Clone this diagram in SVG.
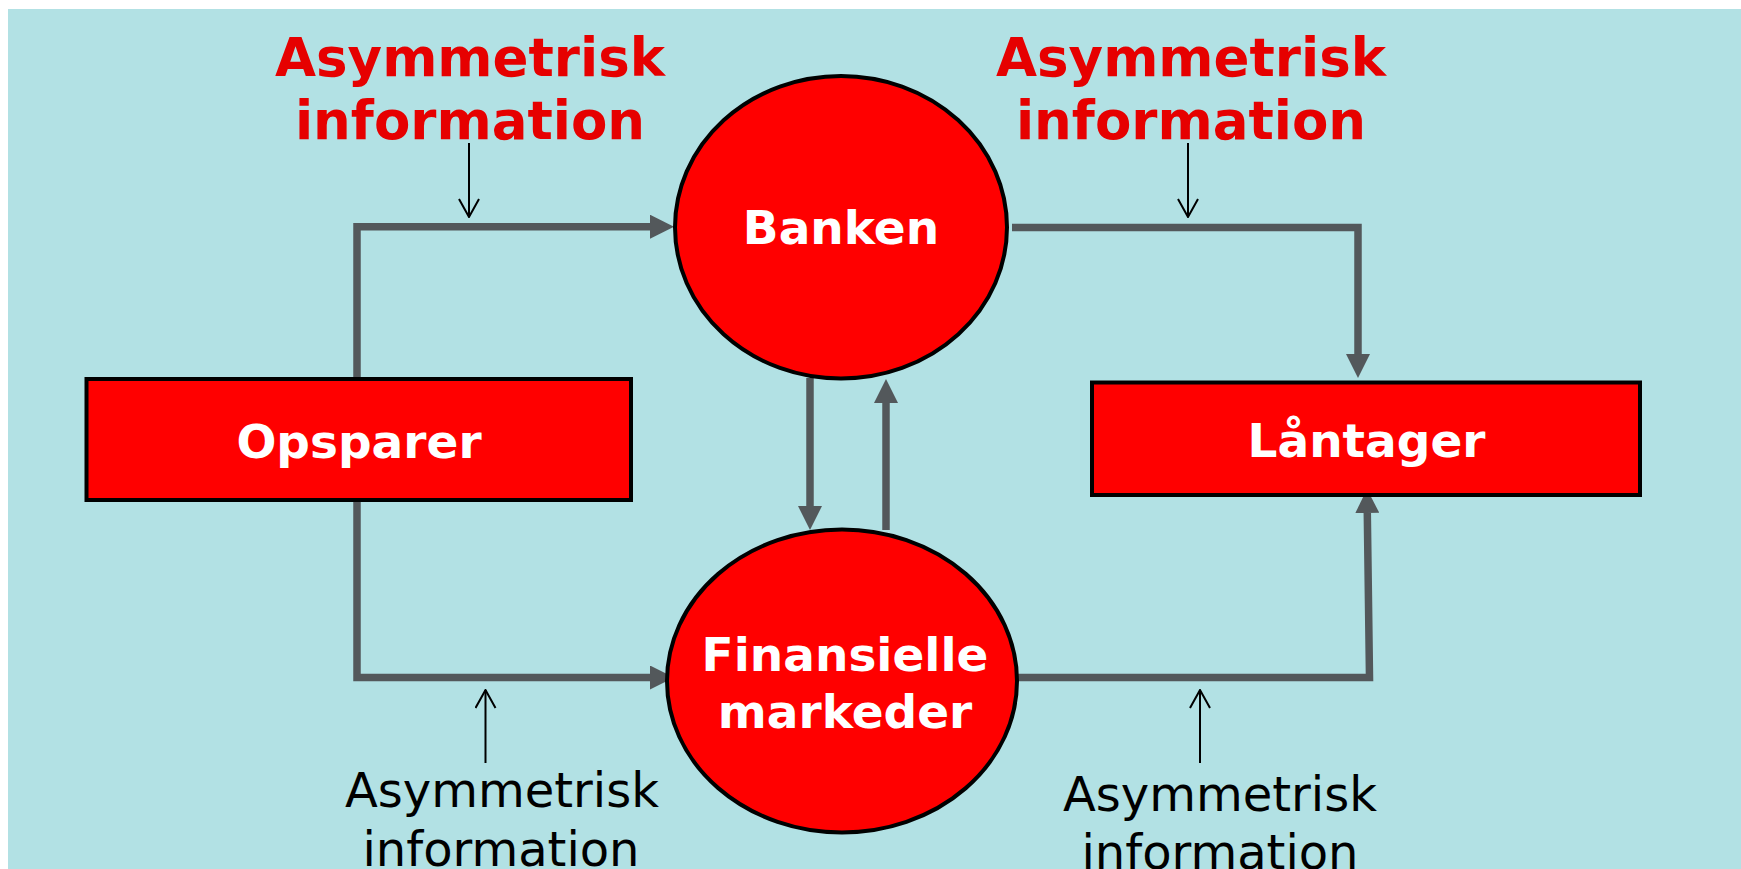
<svg xmlns="http://www.w3.org/2000/svg" width="1741" height="869" viewBox="0 0 1741 869">
  <style>
    .node { fill: #FF0000; stroke: #000000; stroke-width: 4; }
    .lbl { font-family: "DejaVu Sans", "Verdana", sans-serif; font-weight: bold; font-size: 47px; fill: #FFFFFF; text-anchor: middle; }
    .red { font-family: "DejaVu Sans", "Verdana", sans-serif; font-weight: bold; font-size: 53px; fill: #E60000; text-anchor: middle; }
    .blk { font-family: "DejaVu Sans", "Verdana", sans-serif; font-size: 48px; fill: #000000; text-anchor: middle; }
    .flow { fill: none; stroke: #53585B; stroke-width: 7.5; stroke-linejoin: miter; marker-end: url(#ah); }
    .info { fill: none; stroke: #000000; stroke-width: 2; marker-end: url(#open); }
  </style>
  <defs>
    <marker id="ah" viewBox="0 0 24 24" refX="0" refY="12" markerWidth="24" markerHeight="24" markerUnits="userSpaceOnUse" orient="auto">
      <path d="M0,0 L24,12 L0,24 Z" fill="#53585B"/>
    </marker>
    <marker id="open" viewBox="0 0 20 22" refX="19" refY="11" markerWidth="20" markerHeight="22" markerUnits="userSpaceOnUse" orient="auto">
      <path d="M1,1 L19,11 L1,21" fill="none" stroke="#000000" stroke-width="2"/>
    </marker>
  </defs>

  <rect x="8" y="9" width="1733" height="860" fill="#B2E1E4"/>

  <g id="connectors">
    <polyline class="flow" points="357,379 357,226.7 650,226.7"/>
    <polyline class="flow" points="1012,227.5 1358,227.5 1358,354"/>
    <polyline class="flow" points="357,500 357,677.5 650,677.5"/>
    <polyline class="flow" points="1008,677.5 1369.5,677.5 1367.3,513"/>
    <line class="flow" x1="810" y1="378" x2="810" y2="506"/>
    <line class="flow" x1="886" y1="530" x2="886" y2="403"/>
    <line class="info" x1="469" y1="143" x2="469" y2="217"/>
    <line class="info" x1="1188" y1="143" x2="1188" y2="217"/>
    <line class="info" x1="485.5" y1="763" x2="485.5" y2="690"/>
    <line class="info" x1="1200" y1="763" x2="1200" y2="690"/>
  </g>

  <g id="banken">
    <ellipse class="node" cx="841" cy="227.3" rx="166" ry="151.3"/>
    <text class="lbl" x="841" y="244">Banken</text>
  </g>
  <g id="finansielle">
    <ellipse class="node" cx="842" cy="681" rx="175" ry="151.5"/>
    <text class="lbl" x="845" y="671">Finansielle</text>
    <text class="lbl" x="845" y="728">markeder</text>
  </g>
  <g id="opsparer">
    <rect class="node" x="86.5" y="379" width="544.5" height="121"/>
    <text class="lbl" x="359" y="458">Opsparer</text>
  </g>
  <g id="laantager">
    <rect class="node" x="1092" y="382.5" width="548" height="112.5"/>
    <text class="lbl" x="1366.5" y="457">Låntager</text>
  </g>

  <g id="info-top-left">
    <text class="red" x="470" y="76">Asymmetrisk</text>
    <text class="red" x="470" y="139">information</text>
  </g>
  <g id="info-top-right">
    <text class="red" x="1191" y="76">Asymmetrisk</text>
    <text class="red" x="1191" y="139">information</text>
  </g>
  <g id="info-bottom-left">
    <text class="blk" x="502" y="807">Asymmetrisk</text>
    <text class="blk" x="501" y="866">information</text>
  </g>
  <g id="info-bottom-right">
    <text class="blk" x="1220" y="811">Asymmetrisk</text>
    <text class="blk" x="1220" y="869">information</text>
  </g>
</svg>
